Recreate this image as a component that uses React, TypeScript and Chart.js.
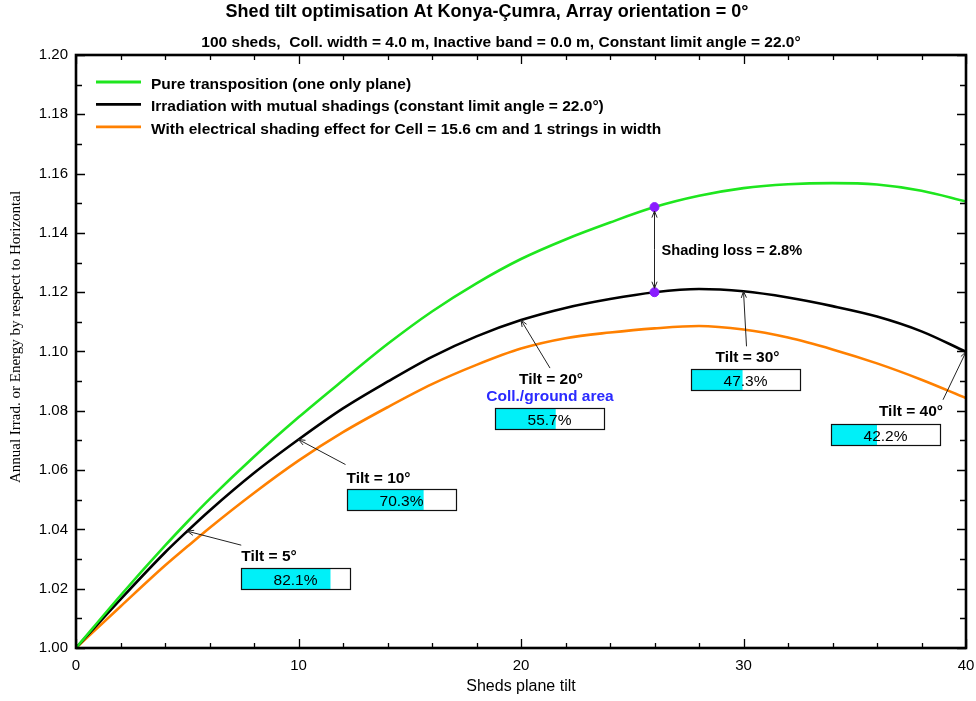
import React, { useEffect, useRef } from 'react';
import { Chart, registerables } from 'chart.js';

Chart.register(...registerables);

// ---------- data ----------
const tilts = [0, 2, 4, 5, 6, 8, 10, 12, 14, 16, 18, 20, 22, 24, 26, 28, 30, 32, 34, 36, 38, 40];
const pureTransposition = [1.0, 1.0177, 1.0345, 1.0425, 1.0502, 1.0645, 1.0778, 1.0903, 1.1025, 1.1135, 1.123, 1.1312, 1.1378, 1.1435, 1.1487, 1.1525, 1.1551, 1.1564, 1.1568, 1.1563, 1.1542, 1.1506];
const mutualShadings = [1.0, 1.0164, 1.0322, 1.0394, 1.0463, 1.059, 1.0703, 1.0808, 1.0898, 1.0982, 1.1051, 1.1106, 1.1147, 1.1177, 1.12, 1.1211, 1.1203, 1.1182, 1.1153, 1.1118, 1.1068, 1.0999];
const electricalShading = [1.0, 1.014, 1.0278, 1.0342, 1.0405, 1.0523, 1.0632, 1.0728, 1.0812, 1.089, 1.0955, 1.101, 1.1045, 1.1064, 1.1078, 1.1086, 1.1074, 1.1047, 1.1007, 1.096, 1.0905, 1.0843];
const seriesLabels = [
  'Pure transposition (one only plane)',
  'Irradiation with mutual shadings (constant limit angle = 22.0°)',
  'With electrical shading effect for Cell = 15.6 cm and 1 strings in width',
];
const annotationTilts = [5, 10, 20, 30, 40];
const annotationPercents = [82.1, 70.3, 55.7, 47.3, 42.2];
const shadingTilt = 26;
const shadingLossText = 'Shading loss = 2.8%';
const collGroundText = 'Coll./ground area';
const xTickValues = [0, 10, 20, 30, 40];
const yTickValues = [1.0, 1.02, 1.04, 1.06, 1.08, 1.1, 1.12, 1.14, 1.16, 1.18, 1.2];
const titleText = 'Shed tilt optimisation At Konya-Çumra, Array orientation = 0°';
const subtitleText = '100 sheds,  Coll. width = 4.0 m, Inactive band = 0.0 m, Constant limit angle = 22.0°';
const xTitle = 'Sheds plane tilt';
const yTitle = 'Annual Irrad. or Energy by respect to Horizontal';

// ---------- styles / layout ----------
const SANS = '"Liberation Sans", Arial, sans-serif';
const SERIF = '"Liberation Serif", "Times New Roman", serif';
const seriesColors = ['#1ee61e', '#000000', '#ff8000'];
const BOX_W = 109;
const BOX_H = 21;
// offsets (px) relative to the annotated point on the shading curve
const annotationLayout = [
  { arrow: [54, 14], text: [54, 30], align: 'left', box: [54, 37] },
  { arrow: [47, 25], text: [48, 43], align: 'left', box: [48, 49] },
  { arrow: [29, 48], text: [30, 64], align: 'center', box: [-26, 88], sub: [29, 81] },
  { arrow: [3, 55], text: [4, 71], align: 'center', box: [-53, 78] },
  { arrow: [-23, 48], text: [-23, 64], align: 'right', box: [-135, 72] },
];

function drawArrow(ctx: CanvasRenderingContext2D, x1: number, y1: number, x2: number, y2: number) {
  const ang = Math.atan2(y2 - y1, x2 - x1);
  const head = 7;
  const spread = 0.38;
  ctx.save();
  ctx.strokeStyle = '#222';
  ctx.lineWidth = 1;
  ctx.beginPath();
  ctx.moveTo(x1, y1);
  ctx.lineTo(x2, y2);
  ctx.stroke();
  ctx.beginPath();
  ctx.moveTo(x2 - head * Math.cos(ang - spread), y2 - head * Math.sin(ang - spread));
  ctx.lineTo(x2, y2);
  ctx.lineTo(x2 - head * Math.cos(ang + spread), y2 - head * Math.sin(ang + spread));
  ctx.stroke();
  ctx.restore();
}

const overlayPlugin = {
  id: 'overlay',
  afterDatasetsDraw(chart: any) {
    const ctx: CanvasRenderingContext2D = chart.ctx;
    const xs = chart.scales.x;
    const ys = chart.scales.y;
    ctx.save();

    // shading loss double arrow
    const si = tilts.indexOf(shadingTilt);
    const sx = xs.getPixelForValue(shadingTilt);
    const gy = ys.getPixelForValue(pureTransposition[si]);
    const by = ys.getPixelForValue(mutualShadings[si]);
    const mid = (gy + by) / 2;
    drawArrow(ctx, sx, mid, sx, gy + 4);
    drawArrow(ctx, sx, mid, sx, by - 4);
    ctx.fillStyle = '#000';
    ctx.font = `bold 14.6px ${SANS}`;
    ctx.textAlign = 'left';
    ctx.textBaseline = 'alphabetic';
    ctx.fillText(shadingLossText, sx + 7, mid + 5);

    // tilt annotations
    annotationTilts.forEach((t, i) => {
      const idx = tilts.indexOf(t);
      const px = xs.getPixelForValue(t);
      const py = ys.getPixelForValue(mutualShadings[idx]);
      const L: any = annotationLayout[i];
      drawArrow(ctx, px + L.arrow[0], py + L.arrow[1], px, py);
      ctx.fillStyle = '#000';
      ctx.font = `bold 15.5px ${SANS}`;
      ctx.textAlign = L.align;
      ctx.textBaseline = 'alphabetic';
      ctx.fillText(`Tilt = ${t}°`, px + L.text[0], py + L.text[1]);
      if (L.sub) {
        ctx.fillStyle = '#2a2aff';
        ctx.textAlign = 'center';
        ctx.fillText(collGroundText, px + L.sub[0], py + L.sub[1]);
      }
      const bx = Math.round(px + L.box[0]);
      const bY = Math.round(py + L.box[1]);
      ctx.fillStyle = '#ffffff';
      ctx.fillRect(bx, bY, BOX_W, BOX_H);
      ctx.fillStyle = '#00f0f8';
      ctx.fillRect(bx, bY, (BOX_W * annotationPercents[i]) / 100, BOX_H);
      ctx.strokeStyle = '#111';
      ctx.lineWidth = 1.2;
      ctx.strokeRect(bx + 0.5, bY + 0.5, BOX_W, BOX_H);
      ctx.fillStyle = '#000';
      ctx.font = `15.5px ${SANS}`;
      ctx.textAlign = 'center';
      ctx.fillText(`${annotationPercents[i].toFixed(1)}%`, bx + BOX_W / 2, bY + 17);
    });

    // legend
    seriesLabels.forEach((lab, i) => {
      const ly = 82 + i * 22.4;
      ctx.strokeStyle = seriesColors[i];
      ctx.lineWidth = 2.8;
      ctx.beginPath();
      ctx.moveTo(96, ly);
      ctx.lineTo(141, ly);
      ctx.stroke();
      ctx.fillStyle = '#000';
      ctx.font = `bold 15.5px ${SANS}`;
      ctx.textAlign = 'left';
      ctx.textBaseline = 'alphabetic';
      ctx.fillText(lab, 151, ly + 7);
    });
    ctx.restore();
  },
  afterDraw(chart: any) {
    const ctx: CanvasRenderingContext2D = chart.ctx;
    const { left, right, top, bottom } = chart.chartArea;
    const xs = chart.scales.x;
    const ys = chart.scales.y;
    ctx.save();
    // inner ticks
    ctx.strokeStyle = '#000';
    ctx.lineWidth = 1.3;
    ctx.beginPath();
    for (let t = 0; t <= 40; t += 2) {
      const x = Math.round(xs.getPixelForValue(t)) + 0.5;
      const len = t % 10 === 0 ? 9 : 5;
      ctx.moveTo(x, bottom);
      ctx.lineTo(x, bottom - len);
      ctx.moveTo(x, top);
      ctx.lineTo(x, top + len);
    }
    for (let k = 0; k <= 20; k++) {
      const y = Math.round(ys.getPixelForValue(1 + k * 0.01)) + 0.5;
      const len = k % 2 === 0 ? 9 : 6;
      ctx.moveTo(left, y);
      ctx.lineTo(left + len, y);
      ctx.moveTo(right, y);
      ctx.lineTo(right - len, y);
    }
    ctx.stroke();
    // frame
    ctx.lineWidth = 2.6;
    ctx.strokeRect(left, top, right - left, bottom - top);

    // titles
    ctx.fillStyle = '#000';
    ctx.textBaseline = 'alphabetic';
    ctx.textAlign = 'center';
    ctx.font = `bold 18px ${SANS}`;
    ctx.fillText(titleText, 487, 17);
    ctx.font = `bold 15.5px ${SANS}`;
    ctx.fillText(subtitleText, 501, 46.5);
    ctx.font = `16px ${SANS}`;
    ctx.fillText(xTitle, (left + right) / 2, 691);
    ctx.save();
    ctx.translate(16, 337);
    ctx.rotate(-Math.PI / 2);
    ctx.font = `15px ${SERIF}`;
    ctx.textBaseline = 'middle';
    ctx.fillText(yTitle, 0, 0);
    ctx.restore();
    ctx.restore();
  },
};

export default function App() {
  const ref = useRef<HTMLCanvasElement | null>(null);
  useEffect(() => {
    if (!ref.current) return;
    const si = tilts.indexOf(shadingTilt);
    const mk = (vals: number[]) => tilts.map((t, i) => ({ x: t, y: vals[i] }));
    const chart = new Chart(ref.current, {
      type: 'line',
      data: {
        datasets: [
          {
            label: 'dots',
            data: [
              { x: shadingTilt, y: pureTransposition[si] },
              { x: shadingTilt, y: mutualShadings[si] },
            ],
            showLine: false,
            pointRadius: 4.5,
            pointBackgroundColor: '#8a1cff',
            pointBorderColor: '#8a1cff',
            order: -1,
          },
          ...[pureTransposition, mutualShadings, electricalShading].map((vals, i) => ({
            label: seriesLabels[i],
            data: mk(vals),
            borderColor: seriesColors[i],
            borderWidth: 2.6,
            pointRadius: 0,
            cubicInterpolationMode: 'monotone' as const,
            fill: false,
            order: 1,
          })),
        ],
      },
      options: {
        responsive: false,
        animation: false,
        events: [],
        layout: { padding: { left: 0, top: 55, right: 10, bottom: 0 } },
        plugins: { legend: { display: false }, tooltip: { enabled: false }, title: { display: false } },
        scales: {
          x: {
            type: 'linear',
            min: 0,
            max: 40,
            grid: { display: false, drawTicks: false },
            border: { display: false },
            afterBuildTicks: (s: any) => {
              s.ticks = xTickValues.map((v) => ({ value: v }));
            },
            afterFit: (s: any) => {
              s.height = 53;
              s.paddingLeft = 0;
              s.paddingRight = 0;
            },
            ticks: {
              padding: 9,
              maxRotation: 0,
              autoSkip: false,
              color: '#000',
              font: { family: SANS, size: 15 },
              callback: (v: any) => String(v),
            },
          },
          y: {
            type: 'linear',
            min: 1.0,
            max: 1.2,
            grid: { display: false, drawTicks: false },
            border: { display: false },
            afterBuildTicks: (s: any) => {
              s.ticks = yTickValues.map((v) => ({ value: v }));
            },
            afterFit: (s: any) => {
              s.width = 76;
              s.paddingTop = 0;
              s.paddingBottom = 0;
            },
            ticks: {
              padding: 8,
              autoSkip: false,
              color: '#000',
              font: { family: SANS, size: 15 },
              callback: (v: any) => Number(v).toFixed(2),
            },
          },
        },
      },
      plugins: [overlayPlugin],
    } as any);
    return () => chart.destroy();
  }, []);
  return (
    <div style={{ position: 'absolute', left: 0, top: 0, width: 976, height: 701, background: '#fff' }}>
      <canvas ref={ref} width={976} height={701} style={{ display: 'block' }} />
    </div>
  );
}
